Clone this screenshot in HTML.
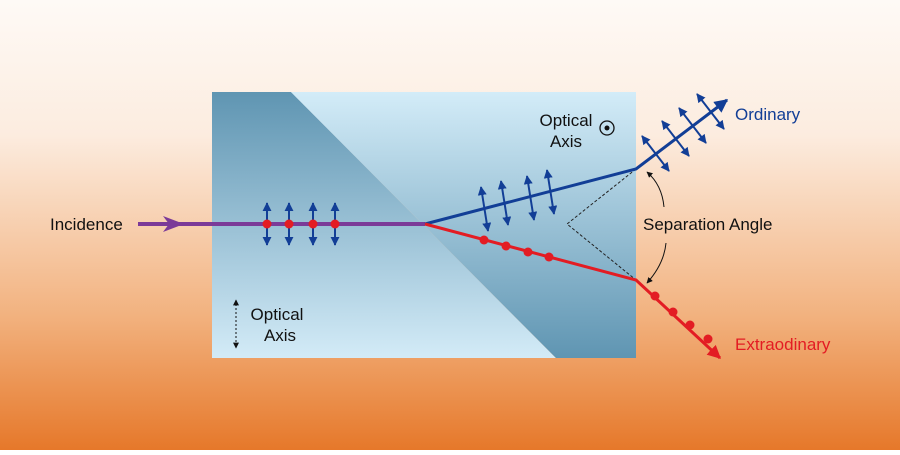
<!DOCTYPE html>
<html><head><style>
html,body{margin:0;padding:0;}
body{width:900px;height:450px;overflow:hidden;font-family:"Liberation Sans",sans-serif;}
</style></head><body>
<svg width="900" height="450" viewBox="0 0 900 450" xmlns="http://www.w3.org/2000/svg">
<defs>
<linearGradient id="bg" x1="0" y1="0" x2="0" y2="1">
<stop offset="0" stop-color="#fefaf6"/><stop offset="0.3" stop-color="#fcecdf"/>
<stop offset="0.7" stop-color="#f2b27f"/><stop offset="1" stop-color="#e6782a"/></linearGradient>
<linearGradient id="dl" x1="0" y1="0" x2="0" y2="1">
<stop offset="0" stop-color="#5f95b2"/><stop offset="1" stop-color="#d3ebf7"/></linearGradient>
<linearGradient id="dr" x1="0" y1="0" x2="0" y2="1">
<stop offset="0" stop-color="#d3ecf8"/><stop offset="1" stop-color="#5f95b2"/></linearGradient>
<marker id="ab" viewBox="0 0 10 10" refX="9" refY="5" markerWidth="4.5" markerHeight="4.5" orient="auto-start-reverse"><path d="M0,0L10,5L0,10z" fill="#123e96"/></marker>
<marker id="ar" viewBox="0 0 10 10" refX="9" refY="5" markerWidth="4.5" markerHeight="4.5" orient="auto"><path d="M0,0L10,5L0,10z" fill="#e31c23"/></marker>
<marker id="ak" viewBox="0 0 10 10" refX="9" refY="5" markerWidth="6" markerHeight="6" orient="auto-start-reverse"><path d="M0,0L10,5L0,10z" fill="#111"/></marker>
</defs>
<rect width="900" height="450" fill="url(#bg)"/>
<polygon points="212,92 291,92 556,358 212,358" fill="url(#dl)"/>
<polygon points="291,92 636,92 636,358 556,358" fill="url(#dr)"/>
<line x1="138" y1="224" x2="425" y2="224" stroke="#7b3a98" stroke-width="4"/>
<path d="M163,216 L184,224 L163,232 L169,224z" fill="#7b3a98"/>
<g stroke="#123e96" stroke-width="2" marker-start="url(#ab)" marker-end="url(#ab)">
<line x1="267" y1="203" x2="267" y2="245"/><line x1="289" y1="203" x2="289" y2="245"/>
<line x1="313" y1="203" x2="313" y2="245"/><line x1="335" y1="203" x2="335" y2="245"/>
</g>
<g fill="#e31c23"><circle cx="267" cy="224" r="4.5"/><circle cx="289" cy="224" r="4.5"/><circle cx="313" cy="224" r="4.5"/><circle cx="335" cy="224" r="4.5"/></g>
<polyline points="636,169 567,224 636,280" fill="none" stroke="#222" stroke-width="1" stroke-dasharray="3,2"/>
<polyline points="425,224 636,169 727,100" fill="none" stroke="#123e96" stroke-width="3" marker-end="url(#ab)"/>
<g stroke="#123e96" stroke-width="2" marker-start="url(#ab)" marker-end="url(#ab)">
<line x1="481" y1="187" x2="488" y2="231"/><line x1="501" y1="181" x2="508" y2="225"/>
<line x1="527" y1="176" x2="534" y2="220"/><line x1="547" y1="170" x2="554" y2="214"/>
<line x1="642" y1="136" x2="669" y2="171"/><line x1="662" y1="121" x2="689" y2="156"/>
<line x1="679" y1="108" x2="706" y2="143"/><line x1="697" y1="94" x2="724" y2="129"/>
</g>
<polyline points="425,224 636,280 720,358" fill="none" stroke="#e31c23" stroke-width="3" marker-end="url(#ar)"/>
<g fill="#e31c23"><circle cx="484" cy="240" r="4.5"/><circle cx="506" cy="246" r="4.5"/><circle cx="528" cy="252" r="4.5"/><circle cx="549" cy="257" r="4.5"/>
<circle cx="655" cy="296" r="4.5"/><circle cx="673" cy="312" r="4.5"/><circle cx="690" cy="325" r="4.5"/><circle cx="708" cy="339" r="4.5"/></g>
<path d="M664,207 Q662,185 647,172" fill="none" stroke="#111" stroke-width="1" marker-end="url(#ak)"/>
<path d="M666,243 Q664,264 647,283" fill="none" stroke="#111" stroke-width="1" marker-end="url(#ak)"/>
<circle cx="607" cy="128" r="7" fill="none" stroke="#111" stroke-width="1.3"/><circle cx="607" cy="128" r="2.5" fill="#111"/>
<line x1="236" y1="300" x2="236" y2="348" stroke="#111" stroke-width="1" stroke-dasharray="2,2" marker-start="url(#ak)" marker-end="url(#ak)"/>
<g font-size="17" fill="#111">
<text x="50" y="230">Incidence</text>
<text x="566" y="126" text-anchor="middle">Optical</text>
<text x="566" y="147" text-anchor="middle">Axis</text>
<text x="277" y="320" text-anchor="middle">Optical</text>
<text x="280" y="341" text-anchor="middle">Axis</text>
<text x="643" y="230">Separation Angle</text>
<text x="735" y="120" fill="#123e96">Ordinary</text>
<text x="735" y="350" fill="#e31c23">Extraodinary</text>
</g>
</svg>
</body></html>
